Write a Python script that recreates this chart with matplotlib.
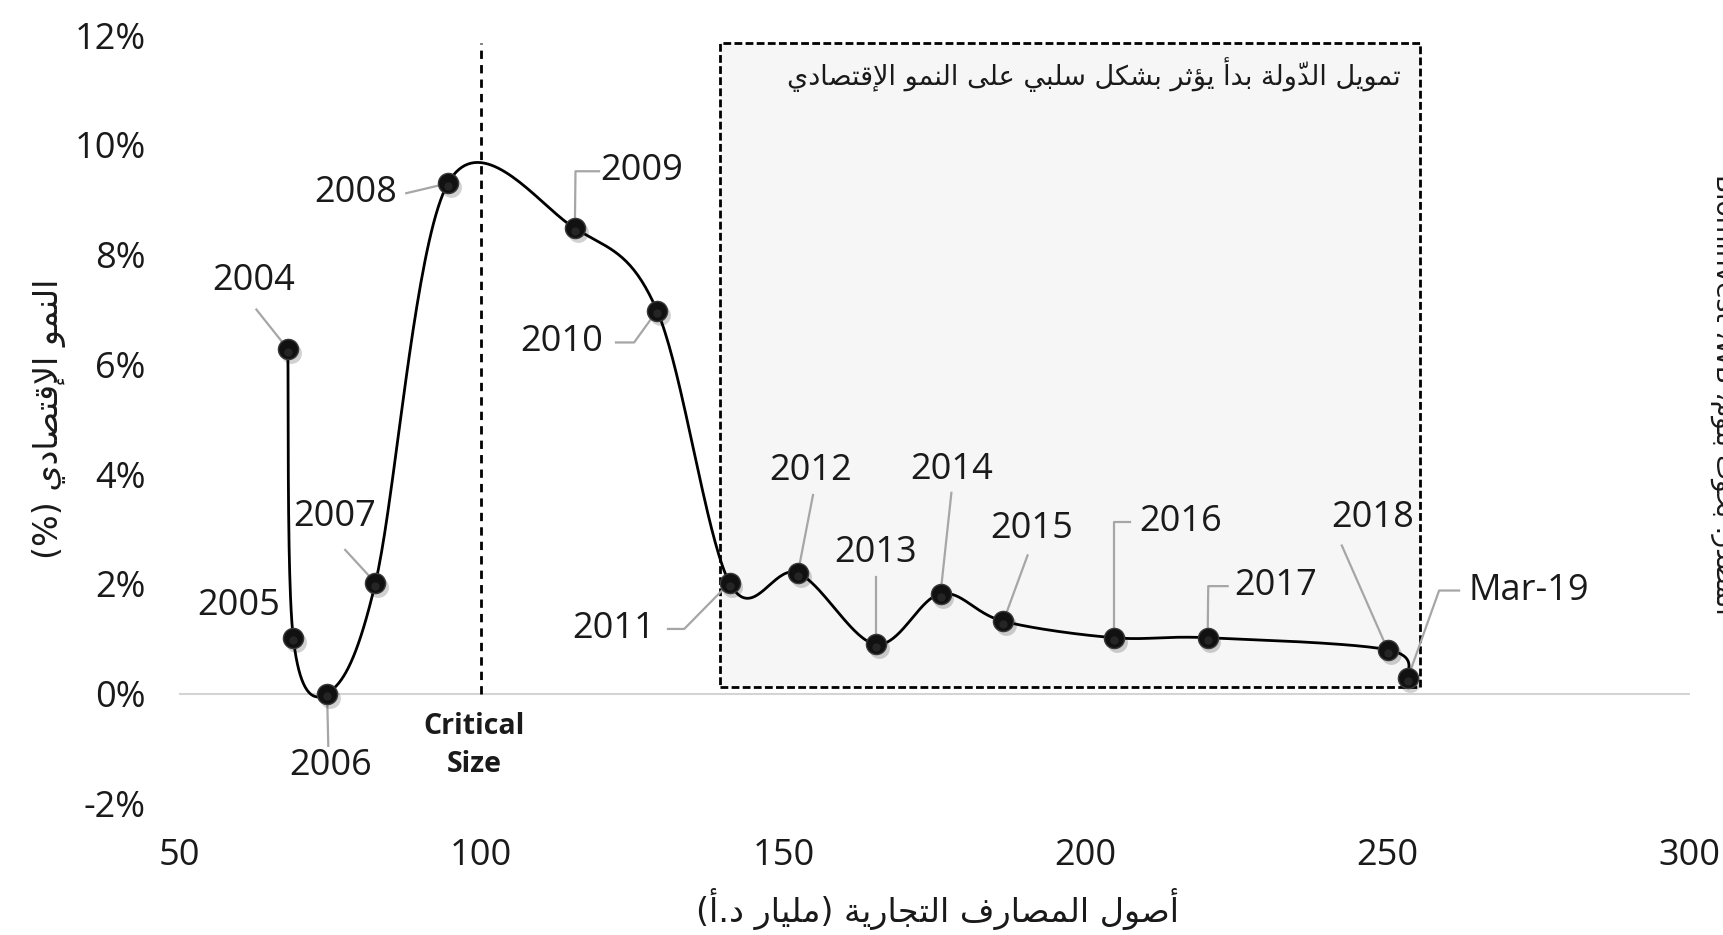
import re
import matplotlib
matplotlib.use("Agg")
import matplotlib.pyplot as plt
import matplotlib.transforms as mtransforms
from matplotlib.patches import Rectangle
import numpy as np

plt.rcParams['font.family'] = ['Open Sans', 'DejaVu Sans']

# data
years = ['2004', '2005', '2006', '2007', '2008', '2009', '2010', '2011',
         '2012', '2013', '2014', '2015', '2016', '2017', '2018', 'Mar-19']
assets = [68.0, 68.9, 74.5, 82.5, 94.5, 115.5, 129.1, 141.1,
          152.4, 165.3, 176.0, 186.4, 204.7, 220.2, 250.0, 253.3]
growth = [6.28, 1.02, 0.0, 2.02, 9.3, 8.48, 6.98, 2.02,
          2.2, 0.9, 1.82, 1.32, 1.02, 1.02, 0.8, 0.28]

x_ticks = [50, 100, 150, 200, 250, 300]
y_ticks = [-2, 0, 2, 4, 6, 8, 10, 12]

ylabel_ar = 'النمو الإقتصادي (%)'
xlabel_ar = 'أصول المصارف التجارية (مليار د.أ)'
box_title_ar = 'تمويل الدوّلة بدأ يؤثر بشكل سلبي على النمو الإقتصادي'
source_ar = 'المصدر: بحوث بلوم، WB، Blominvest'

# label placement: text position, leader start, leader elbow
label_pos = {
    '2004': ((62.4, 7.52), (62.8, 7.0), None),
    '2005': ((59.8, 1.60), None, None),
    '2006': ((75.1, -1.32), (74.7, -0.95), None),
    '2007': ((75.8, 3.22), (77.5, 2.62), None),
    '2008': ((79.3, 9.12), (87.6, 9.12), None),
    '2009': ((126.6, 9.52), (119.5, 9.52), (115.6, 9.52)),
    '2010': ((113.3, 6.40), (122.3, 6.40), (125.3, 6.40)),
    '2011': ((122.0, 1.18), (130.9, 1.18), (133.6, 1.18)),
    '2012': ((154.5, 4.06), (154.9, 3.62), None),
    '2013': ((165.3, 2.56), (165.3, 2.12), None),
    '2014': ((177.8, 4.08), (177.8, 3.66), None),
    '2015': ((191.1, 3.00), (190.4, 2.52), None),
    '2016': ((215.7, 3.12), (207.3, 3.12), (204.7, 3.12)),
    '2017': ((231.5, 1.96), (223.5, 1.96), (220.3, 1.96)),
    '2018': ((247.5, 3.20), (242.4, 2.70), None),
    'Mar-19': ((263.4, 1.88), (261.8, 1.88), (258.5, 1.88)),
}

# --- minimal arabic shaping (matplotlib has no shaping / bidi) ---
AR_BASE = {
    'ء': (0xFE80, 1), 'آ': (0xFE81, 2), 'أ': (0xFE83, 2), 'ؤ': (0xFE85, 2), 'إ': (0xFE87, 2),
    'ئ': (0xFE89, 4), 'ا': (0xFE8D, 2), 'ب': (0xFE8F, 4), 'ة': (0xFE93, 2), 'ت': (0xFE95, 4),
    'ث': (0xFE99, 4), 'ج': (0xFE9D, 4), 'ح': (0xFEA1, 4), 'خ': (0xFEA5, 4), 'د': (0xFEA9, 2),
    'ذ': (0xFEAB, 2), 'ر': (0xFEAD, 2), 'ز': (0xFEAF, 2), 'س': (0xFEB1, 4), 'ش': (0xFEB5, 4),
    'ص': (0xFEB9, 4), 'ض': (0xFEBD, 4), 'ط': (0xFEC1, 4), 'ظ': (0xFEC5, 4), 'ع': (0xFEC9, 4),
    'غ': (0xFECD, 4), 'ف': (0xFED1, 4), 'ق': (0xFED5, 4), 'ك': (0xFED9, 4), 'ل': (0xFEDD, 4),
    'م': (0xFEE1, 4), 'ن': (0xFEE5, 4), 'ه': (0xFEE9, 4), 'و': (0xFEED, 2), 'ى': (0xFEEF, 2),
    'ي': (0xFEF1, 4),
}
LAM_ALEF = {'آ': 0xFEF5, 'أ': 0xFEF7, 'إ': 0xFEF9, 'ا': 0xFEFB}
MARKS = set('\u064B\u064C\u064D\u064E\u064F\u0650\u0651\u0652')


def shape_ar(text):
    chars = list(text)
    n = len(chars)

    def neighbour(i, step):
        j = i + step
        while 0 <= j < n and chars[j] in MARKS:
            j += step
        return j if 0 <= j < n else None

    out = []
    i = 0
    while i < n:
        c = chars[i]
        if c not in AR_BASE:
            out.append(c)
            i += 1
            continue
        p = neighbour(i, -1)
        joins_prev = p is not None and chars[p] in AR_BASE and AR_BASE[chars[p]][1] == 4
        nx = neighbour(i, 1)
        if c == 'ل' and nx is not None and chars[nx] in LAM_ALEF:
            out.append(chr(LAM_ALEF[chars[nx]] + int(joins_prev)))
            i = nx + 1
            continue
        base, nf = AR_BASE[c]
        joins_next = nf == 4 and nx is not None and chars[nx] in AR_BASE
        if nf == 1:
            form = 0
        elif joins_prev and joins_next:
            form = 3
        elif joins_prev:
            form = 1
        elif joins_next:
            form = 2
        else:
            form = 0
        out.append(chr(base + form))
        i += 1
    return ''.join(out)


def ar(text):
    s = shape_ar(text)
    tokens = re.findall(r'[A-Za-z0-9]+|.[\u064B-\u0652]*', s)
    tokens = tokens[::-1]
    swap = {'(': ')', ')': '('}
    return ''.join(swap.get(t, t) for t in tokens)


def smooth(xs, ys, n=40):
    # excel style smoothed line: bezier with 1/6 neighbour tangents
    P = np.column_stack([xs, ys]).astype(float)
    Pe = np.vstack([P[0], P, P[-1]])
    out = []
    for i in range(len(P) - 1):
        p0, p1 = P[i], P[i + 1]
        c1 = p0 + (Pe[i + 2] - Pe[i]) / 6.0
        c2 = p1 - (Pe[i + 3] - Pe[i + 1]) / 6.0
        t = np.linspace(0, 1, n)[:, None]
        seg = ((1 - t) ** 3) * p0 + 3 * ((1 - t) ** 2) * t * c1 + 3 * (1 - t) * t ** 2 * c2 + t ** 3 * p1
        out.append(seg if i == 0 else seg[1:])
    out = np.vstack(out)
    return out[:, 0], out[:, 1]


fig = plt.figure(figsize=(17.23, 9.35), dpi=100)
ax = fig.add_axes([0.1039, 0.1407, 0.8769, 0.8217])
ax.set_xlim(50, 300)
ax.set_ylim(-2, 12)
for s in ax.spines.values():
    s.set_visible(False)

ax.set_xticks(x_ticks)
ax.set_xticklabels([str(v) for v in x_ticks])
ax.set_yticks(y_ticks)
ax.set_yticklabels(['%d%%' % v for v in y_ticks])
ax.tick_params(length=0, labelsize=26, colors='#1a1a1a')
ax.tick_params(axis='y', pad=24)
ax.tick_params(axis='x', pad=25)

ax.axhline(0, color='#d4d4d4', lw=1.5, zorder=1)

# shaded region
ax.add_patch(Rectangle((139.5, 0.12), 255.3 - 139.5, 11.86 - 0.12,
                       facecolor='#f6f6f6', edgecolor='black', lw=2.0,
                       ls=(0, (2.8, 1.2)), zorder=0))
ax.text(252.2, 11.28, ar(box_title_ar), family='DejaVu Sans', fontsize=19.5,
        ha='right', va='center', color='#1a1a1a')

# critical size line
ax.plot([100, 100], [0, 11.86], color='black', lw=2.0, ls=(0, (3, 2.2)), zorder=1)
ax.text(98.9, -0.95, 'Critical\nSize', fontsize=20.5, fontweight='bold', ha='center',
        va='center', linespacing=1.4, color='#1a1a1a')

# curve
sx, sy = smooth(assets, growth)
ax.plot(sx, sy, color='black', lw=2.0, zorder=4, solid_capstyle='round')

# leaders + labels
for yr, x, y in zip(years, assets, growth):
    (tx, ty), start, elbow = label_pos[yr]
    ax.text(tx, ty, yr, fontsize=26, ha='left' if yr == 'Mar-19' else 'center',
            va='center', color='#1a1a1a', zorder=6)
    if start is not None:
        pts = [start] + ([elbow] if elbow else []) + [(x, y)]
        lx, ly = zip(*pts)
        ax.plot(lx, ly, color='#a6a6a6', lw=1.6, zorder=3)

# markers: shadow, ball, highlight
shadow = mtransforms.offset_copy(ax.transData, fig=fig, x=2, y=-3, units='points')
ax.plot(assets, growth, 'o', ms=15, color='#000000', alpha=0.18, mec='none',
        transform=shadow, zorder=4)
ax.plot(assets, growth, 'o', ms=14.5, mfc='#111111', mec='#3a3a3a', mew=1.0, ls='none', zorder=5)
hi = mtransforms.offset_copy(ax.transData, fig=fig, x=0, y=-2, units='points')
ax.plot(assets, growth, 'o', ms=6, mfc='#3a3a3a', mec='none', alpha=0.5, ls='none',
        transform=hi, zorder=5)

ax.set_xlabel(ar(xlabel_ar), family='DejaVu Sans', fontsize=24, color='#1a1a1a')
ax.set_ylabel(ar(ylabel_ar), family='DejaVu Sans', fontsize=24, color='#1a1a1a')
ax.yaxis.set_label_coords(-0.075, 0.50)
ax.xaxis.set_label_coords(0.502, -0.110)

fig.text(1.0, 0.578, ar(source_ar), family='DejaVu Sans', fontsize=19, rotation=-90,
         ha='center', va='center', color='#1a1a1a')

fig.savefig('out.png', dpi=100, facecolor='white')
